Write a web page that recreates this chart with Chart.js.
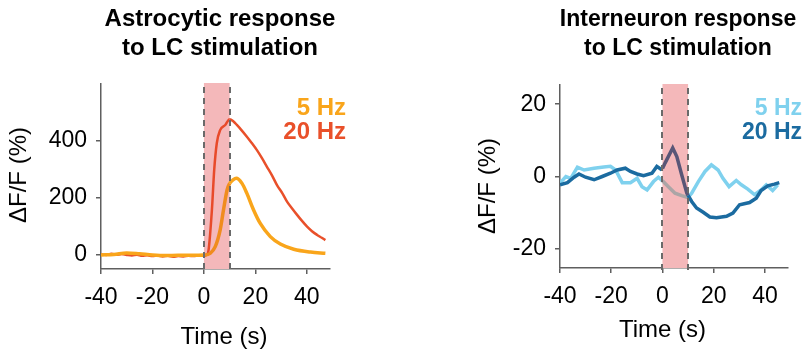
<!DOCTYPE html>
<html>
<head>
<meta charset="utf-8">
<script src="https://cdn.jsdelivr.net/npm/chart.js@4.4.1/dist/chart.umd.min.js"></script>
<style>
  html, body { margin:0; padding:0; background:#fff; }
  body { width:810px; height:357px; position:relative; overflow:hidden; font-family:"Liberation Sans", Arial, sans-serif; }
  canvas { position:absolute; top:0; }
  .t { position:absolute; white-space:nowrap; color:#000; }
  .title { font-weight:bold; line-height:29px; text-align:center; width:300px; }
  .leg { font-weight:bold; line-height:24px; text-align:right; width:120px; }
  .axt { font-size:24px; line-height:24px; }
  .yt { font-size:24px; line-height:24px; transform:translate(-50%,-50%) rotate(-90deg); }
</style>
</head>
<body>
<canvas id="c1" width="405" height="357" style="left:0"></canvas>
<canvas id="c2" width="405" height="357" style="left:405px"></canvas>

<div class="t title" style="left:70px; top:3px; font-size:24px;">Astrocytic response<br>to LC stimulation</div>
<div class="t title" style="left:528px; top:3.5px; font-size:23px;">Interneuron response<br>to LC stimulation</div>

<div class="t leg" style="left:226px; top:94.7px; font-size:24px;"><span style="color:#F9A51B">5 Hz</span><br><span style="color:#E9502A">20 Hz</span></div>
<div class="t leg" style="left:682px; top:94.5px; font-size:23px;"><span style="color:#7FD1EE">5 Hz</span><br><span style="color:#1B6BA0">20 Hz</span></div>

<div class="t axt" style="left:224px; top:324px; transform:translateX(-50%);">Time (s)</div>
<div class="t axt" style="left:662.5px; top:317px; transform:translateX(-50%);">Time (s)</div>

<div class="t yt" style="left:18px; top:175px;">ΔF/F (%)</div>
<div class="t yt" style="left:487px; top:186px;">ΔF/F (%)</div>

<script>
// ---------- data ----------
const xTicks = [-40, -20, 0, 20, 40];
const astroYTicks = [0, 200, 400];
const interYTicks = [-20, 0, 20];
const stimStart = 0;
const stimEnd = 10;

// Astrocytic response, 20 Hz
const astroTime20 = [-40,-38,-36,-34,-32,-30,-28,-26,-24,-22,-20,-18,-16,-14,-12,-10,-8,-6,-4,-2,0,1,1.8,3.1,4,5,6.3,8.3,10,11.5,12.8,14.5,16.7,18.5,20.6,22.5,24.5,26.5,28.4,30.5,32.3,34.2,36.2,38.2,40.1,42,44,45.8,47.2];
const astroVal20  = [2,0,4,1,3,0,-2,1,-3,-1,-4,-2,-5,-3,-6,-4,-5,-3,-4,-2,-3,0,17,157,297,390,436,454,474,466,454,437,413,392,366,339,308,277,244,215,186,163,140,118,99,83,70,60,52];

// Astrocytic response, 5 Hz
const astroTime5 = [-40,-35,-30,-25,-20,-15,-10,-5,0,2.5,4.4,6.3,7.6,9,10,11.3,12.6,14.8,16.7,19.3,21.9,25.8,29.7,34.9,41.4,47.2];
const astroVal5  = [0,2,7,4,0,-2,-1,-1,0,6,29,87,157,227,250,262,268,250,215,157,110,64,38,20,10,6];

// Interneuron response, 5 Hz
const interTime5 = [-40,-37.7,-35.8,-33.2,-30.6,-26.7,-22.9,-20.3,-18.3,-15.7,-12.5,-9.9,-8,-6,-3.5,-1.6,0,2.3,4.9,7.5,10,11.4,14,16.6,19.1,21.7,23.6,26,28.8,30.8,33.3,35.9,38.5,40.5,43,45];
const interVal5  = [-1.8,0,-0.5,2.6,1.8,2.3,2.6,2.8,1.8,-1.7,-1.7,-0.5,-2.8,-3.7,-1.4,-0.2,-1.2,-2.8,-4.6,-5.3,-5.8,-4.6,-1.4,1.4,3.2,1.8,-0.5,-2.8,-1.1,-2.3,-3.5,-5.0,-3.7,-2.3,-3.9,-2.3];

// Interneuron response, 20 Hz
const interTime20 = [-40,-37.1,-34.5,-32.6,-30,-26.7,-23.5,-20.3,-17.7,-14.5,-12.5,-9.9,-7.4,-4.1,-2.2,-0.6,0,1,4,5.6,7.5,9.5,10,11.4,13.3,15.9,18.5,21.1,25,27.5,30.1,34,36.6,38.5,41.1,43.7,45.6];
const interVal20  = [-2.3,-1.7,-0.2,0.7,-0.2,-0.9,0,0.9,1.8,2.3,1.4,0.7,0.2,0.9,2.8,2.0,2.2,3.7,7.9,5.5,0.5,-4.6,-5.2,-6.9,-8.7,-9.9,-11.2,-11.4,-11.0,-10.1,-7.8,-7.2,-6.0,-3.9,-2.6,-2.1,-1.7];

// ---------- styles ----------
const FONT = '"Liberation Sans", Arial, sans-serif';
const AXIS = '#5f5f5f';
const PINK = '#F4B8BA';
const COL = {
  orange: '#F9A51B', orangeIn: '#F08C1E',
  red: '#E9502A', redIn: '#E84A2A',
  light: '#7FD1EE', lightIn: '#ABA5A6',
  dark: '#1B6BA0', darkIn: '#5A5677'
};

const pts = (t, v) => t.map((x, i) => ({x, y: v[i]}));
const segCol = (out, inn) => ctx => (ctx.p0.parsed.x >= stimStart && ctx.p1.parsed.x <= stimEnd) ? inn : out;

const stimPlugin = {
  id: 'stim',
  beforeDatasetsDraw(chart) {
    const {ctx, chartArea, scales: {x}} = chart;
    const x0 = x.getPixelForValue(stimStart), x1 = x.getPixelForValue(stimEnd);
    ctx.save();
    ctx.fillStyle = PINK;
    ctx.fillRect(x0, chartArea.top - 1, x1 - x0, chartArea.bottom - chartArea.top + 1);
    ctx.restore();
  },
  afterDatasetsDraw(chart) {
    const {ctx, chartArea, scales: {x}} = chart;
    ctx.save();
    ctx.strokeStyle = '#6a6a6a';
    ctx.lineWidth = 2;
    ctx.setLineDash([6, 5]);
    [stimStart, stimEnd].forEach(v => {
      const px = Math.round(x.getPixelForValue(v));
      ctx.beginPath();
      ctx.moveTo(px, chartArea.top + 3);
      ctx.lineTo(px, chartArea.bottom + 5);
      ctx.stroke();
    });
    ctx.restore();
  }
};

function makeChart(id, cfg) {
  return new Chart(document.getElementById(id), {
    type: 'line',
    data: { datasets: cfg.datasets },
    plugins: [stimPlugin],
    options: {
      responsive: false,
      animation: false,
      devicePixelRatio: 1,
      layout: { padding: { left: 0, top: cfg.top, right: cfg.right, bottom: 0 } },
      plugins: { legend: { display: false }, tooltip: { enabled: false } },
      elements: { point: { radius: 0 } },
      scales: {
        x: {
          type: 'linear', min: -40, max: 49,
          afterBuildTicks: s => { s.ticks = xTicks.map(v => ({value: v})); },
          afterFit: s => { s.height = cfg.xh; },
          grid: { display: true, drawOnChartArea: false, drawTicks: true, tickLength: 5, color: AXIS, lineWidth: 1.5 },
          border: { display: true, color: AXIS, width: 1.5 },
          ticks: { font: { family: FONT, size: 23 }, color: '#000', padding: 10, maxRotation: 0, autoSkip: false, callback: v => String(v) }
        },
        y: {
          type: 'linear', min: cfg.ymin, max: cfg.ymax,
          afterBuildTicks: s => { s.ticks = cfg.yTicks.map(v => ({value: v})); },
          afterFit: s => { s.width = cfg.yw; },
          grid: { display: true, drawOnChartArea: false, drawTicks: true, tickLength: 5, color: AXIS, lineWidth: 1.5 },
          border: { display: true, color: AXIS, width: 1.5 },
          ticks: { font: { family: FONT, size: 23 }, color: '#000', padding: 9, autoSkip: false, callback: v => String(v) }
        }
      }
    }
  });
}

makeChart('c1', {
  top: 84, right: 75, xh: 88, yw: 101, ymin: -49, ymax: 597, yTicks: astroYTicks,
  datasets: [
    { data: pts(astroTime5, astroVal5), borderWidth: 3.5, borderColor: COL.orange, order: 0,
      cubicInterpolationMode: 'monotone', segment: { borderColor: segCol(COL.orange, COL.orangeIn) } },
    { data: pts(astroTime20, astroVal20), borderWidth: 2.5, borderColor: COL.red, order: 1,
      cubicInterpolationMode: 'monotone', segment: { borderColor: segCol(COL.red, COL.redIn) } }
  ]
});

makeChart('c2', {
  top: 85, right: 22, xh: 89, yw: 155, ymin: -25.3, ymax: 25.3, yTicks: interYTicks,
  datasets: [
    { data: pts(interTime20, interVal20), borderWidth: 3.5, borderColor: COL.dark, order: 0, tension: 0,
      segment: { borderColor: segCol(COL.dark, COL.darkIn) } },
    { data: pts(interTime5, interVal5), borderWidth: 3.5, borderColor: COL.light, order: 1, tension: 0,
      segment: { borderColor: segCol(COL.light, COL.lightIn) } }
  ]
});
</script>
</body>
</html>
